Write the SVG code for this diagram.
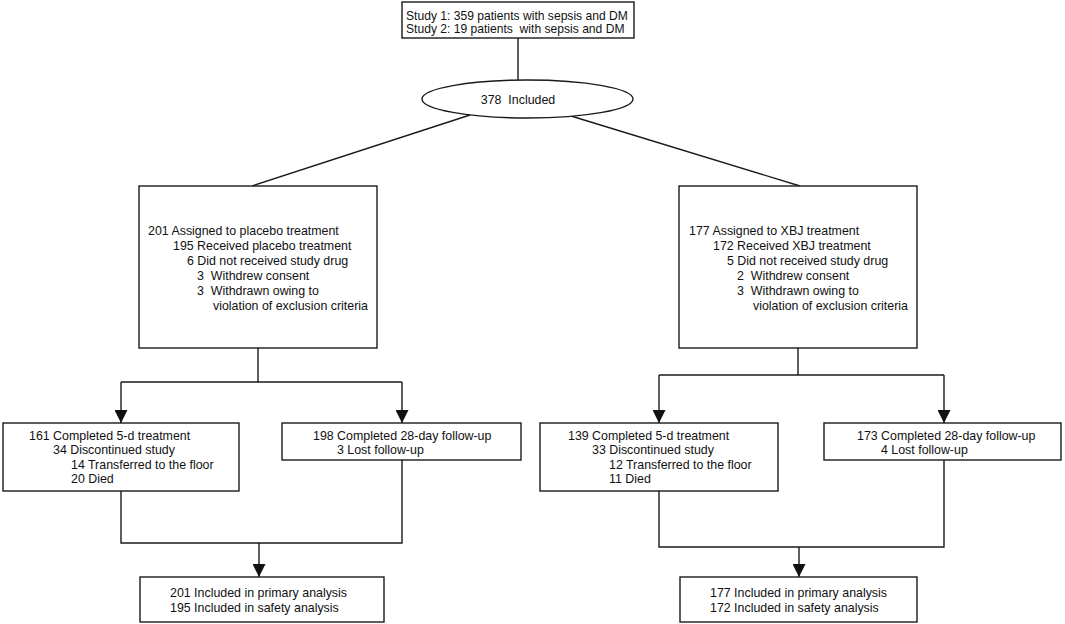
<svg xmlns="http://www.w3.org/2000/svg" width="1065" height="624" viewBox="0 0 1065 624">
<defs>
<style>
.box{fill:#fff;stroke:#1a1a1a;stroke-width:1.4}
.ln{fill:none;stroke:#1a1a1a;stroke-width:1.4}
text{font-family:"Liberation Sans",Arial,sans-serif;font-size:12.4px;fill:#111;white-space:pre}
.sm{font-size:12.1px}
</style>
<marker id="ah" markerUnits="userSpaceOnUse" markerWidth="13" markerHeight="13" refX="13" refY="6.5" orient="auto" viewBox="0 0 13 13">
<path d="M0,0 L13,6.5 L0,13 z" fill="#111"/>
</marker>
</defs>
<rect width="1065" height="624" fill="#fff"/>
<g id="connectors">
<line class="ln" x1="518" y1="38" x2="518" y2="80"/>
<line class="ln" x1="470" y1="115" x2="252" y2="186"/>
<line class="ln" x1="571" y1="116" x2="800" y2="186"/>
<polyline class="ln" points="258,348 258,382"/>
<polyline class="ln" points="121,382 402,382"/>
<line class="ln" x1="121" y1="382" x2="121" y2="423" marker-end="url(#ah)"/>
<line class="ln" x1="402" y1="382" x2="402" y2="423" marker-end="url(#ah)"/>
<polyline class="ln" points="798,348 798,375"/>
<polyline class="ln" points="659,375 944,375"/>
<line class="ln" x1="659" y1="375" x2="659" y2="423" marker-end="url(#ah)"/>
<line class="ln" x1="944" y1="375" x2="944" y2="423" marker-end="url(#ah)"/>
<polyline class="ln" points="121,491 121,543 402,543 402,460"/>
<line class="ln" x1="259" y1="543" x2="259" y2="577" marker-end="url(#ah)"/>
<polyline class="ln" points="659,491 659,547 944,547 944,460"/>
<line class="ln" x1="799" y1="547" x2="799" y2="577" marker-end="url(#ah)"/>
</g>
<g id="study">
<rect class="box" x="402" y="2" width="232" height="36"/>
<text class="sm" x="406" y="20">Study 1: 359 patients with sepsis and DM</text>
<text class="sm" x="406" y="33">Study 2: 19 patients  with sepsis and DM</text>
</g>
<g id="included">
<ellipse class="box" cx="527.5" cy="99" rx="105.5" ry="19"/>
<text x="518" y="104" text-anchor="middle">378  Included</text>
</g>
<g id="placebo">
<rect class="box" x="139" y="186" width="238" height="162"/>
<text x="148" y="235">201 Assigned to placebo treatment</text>
<text x="173" y="250">195 Received placebo treatment</text>
<text x="187" y="265">6 Did not received study drug</text>
<text x="197" y="280">3  Withdrew consent</text>
<text x="197" y="295">3  Withdrawn owing to</text>
<text x="213" y="310">violation of exclusion criteria</text>
</g>
<g id="xbj">
<rect class="box" x="679" y="186" width="238" height="162"/>
<text x="689" y="235">177 Assigned to XBJ treatment</text>
<text x="713" y="250">172 Received XBJ treatment</text>
<text x="727" y="265">5 Did not received study drug</text>
<text x="737" y="280">2  Withdrew consent</text>
<text x="737" y="295">3  Withdrawn owing to</text>
<text x="753" y="310">violation of exclusion criteria</text>
</g>
<g id="placebo-5d">
<rect class="box" x="3" y="423" width="236" height="68"/>
<text x="29" y="439.5">161 Completed 5-d treatment</text>
<text x="53" y="454">34 Discontinued study</text>
<text x="71" y="468.5">14 Transferred to the floor</text>
<text x="71" y="483">20 Died</text>
</g>
<g id="placebo-28d">
<rect class="box" x="282" y="423" width="239" height="37"/>
<text x="313" y="439.5">198 Completed 28-day follow-up</text>
<text x="337" y="454">3 Lost follow-up</text>
</g>
<g id="xbj-5d">
<rect class="box" x="540" y="423" width="238" height="68"/>
<text x="568" y="439.5">139 Completed 5-d treatment</text>
<text x="592" y="454">33 Discontinued study</text>
<text x="609" y="468.5">12 Transferred to the floor</text>
<text x="609" y="483">11 Died</text>
</g>
<g id="xbj-28d">
<rect class="box" x="824" y="423" width="237" height="37"/>
<text x="857" y="439.5">173 Completed 28-day follow-up</text>
<text x="881" y="454">4 Lost follow-up</text>
</g>
<g id="placebo-analysis">
<rect class="box" x="140" y="577" width="244" height="45"/>
<text x="170" y="597">201 Included in primary analysis</text>
<text x="170" y="612">195 Included in safety analysis</text>
</g>
<g id="xbj-analysis">
<rect class="box" x="680" y="577" width="237" height="45"/>
<text x="710" y="597">177 Included in primary analysis</text>
<text x="710" y="612">172 Included in safety analysis</text>
</g>
</svg>
